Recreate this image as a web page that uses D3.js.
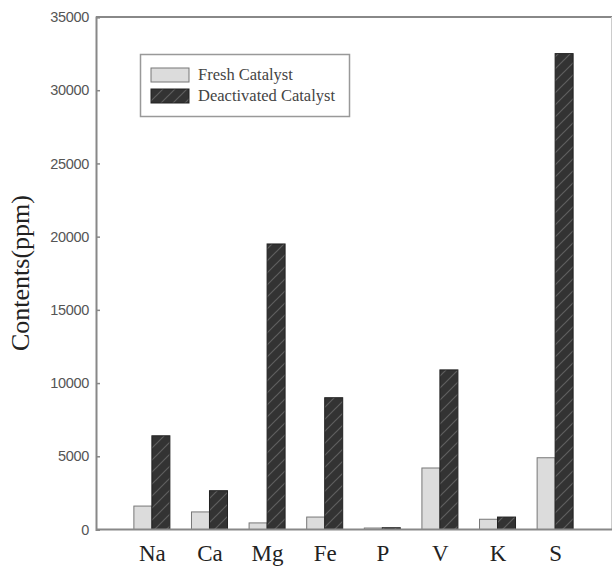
<!DOCTYPE html>
<html>
<head>
<meta charset="utf-8">
<script src="https://cdn.jsdelivr.net/npm/d3@7"></script>
<style>
  body { margin: 0; background: #fff; }
  svg { display: block; }
</style>
</head>
<body>
<div id="chart"></div>
<script>
// data
const elements = ["Na", "Ca", "Mg", "Fe", "P", "V", "K", "S"];
const fresh = [1600, 1200, 450, 850, 100, 4200, 700, 4900];
const deactivated = [6400, 2650, 19500, 9000, 120, 10900, 850, 32500];
const yTicks = [0, 5000, 10000, 15000, 20000, 25000, 30000, 35000];
const seriesNames = ["Fresh Catalyst", "Deactivated Catalyst"];

const W = 612, H = 567;
const margin = { top: 17, right: 1, bottom: 37, left: 96 };

const svg = d3.select("#chart")
    .append("svg")
    .attr("width", W)
    .attr("height", H);

// hatch pattern for the dark bars
const defs = svg.append("defs");
const pat = defs.append("pattern")
    .attr("id", "hatch")
    .attr("patternUnits", "userSpaceOnUse")
    .attr("width", 12)
    .attr("height", 12);
pat.append("rect").attr("width", 12).attr("height", 12).attr("fill", "#333");
pat.append("path")
    .attr("d", "M-3,3 L3,-3 M0,12 L12,0 M9,15 L15,9")
    .attr("stroke", "#5e5e5e")
    .attr("stroke-width", 1.2);

const x = d3.scalePoint()
    .domain(elements)
    .range([margin.left, W - margin.right])
    .padding(0.97);

const y = d3.scaleLinear()
    .domain([0, 35000])
    .range([H - margin.bottom - 0.5, margin.top]);

const barW = 18;

// frame (top / right)
svg.append("line")
    .attr("x1", margin.left).attr("x2", W)
    .attr("y1", margin.top).attr("y2", margin.top)
    .attr("stroke", "#888").attr("stroke-width", 2);
svg.append("line")
    .attr("x1", W - 0.5).attr("x2", W - 0.5)
    .attr("y1", margin.top).attr("y2", y(0))
    .attr("stroke", "#ccc").attr("stroke-width", 1);

// bars
const g = svg.append("g");
g.selectAll(".fresh")
    .data(elements)
    .join("rect")
    .attr("class", "fresh")
    .attr("x", d => x(d) - barW)
    .attr("y", (d, i) => y(fresh[i]))
    .attr("width", barW)
    .attr("height", (d, i) => y(0) - y(fresh[i]))
    .attr("fill", "#dcdcdc")
    .attr("stroke", "#777")
    .attr("stroke-width", 1);

g.selectAll(".deact")
    .data(elements)
    .join("rect")
    .attr("class", "deact")
    .attr("x", d => x(d))
    .attr("y", (d, i) => y(deactivated[i]))
    .attr("width", barW)
    .attr("height", (d, i) => y(0) - y(deactivated[i]))
    .attr("fill", "url(#hatch)")
    .attr("stroke", "#222")
    .attr("stroke-width", 1);

// y axis
const yAxis = svg.append("g")
    .attr("transform", `translate(${margin.left},0)`)
    .call(d3.axisLeft(y).tickValues(yTicks).tickSize(-4).tickPadding(7).tickFormat(d3.format("d")));
yAxis.select(".domain").attr("stroke", "#888").attr("stroke-width", 2);
yAxis.selectAll(".tick line").attr("stroke", "#888").attr("stroke-width", 1.5);
yAxis.selectAll(".tick text")
    .attr("fill", "#555")
    .style("font-family", "Liberation Sans, Arial, sans-serif")
    .style("font-size", "14.5px")
    .style("letter-spacing", "-0.3px");

// x axis
const xAxis = svg.append("g")
    .attr("transform", `translate(0,${y(0)})`)
    .call(d3.axisBottom(x).tickSize(0).tickPadding(15));
xAxis.select(".domain").attr("stroke", "#888").attr("stroke-width", 2)
    .attr("d", `M${margin.left},0H${W}`);
xAxis.selectAll(".tick text")
    .attr("fill", "#222")
    .attr("dy", "0.71em")
    .style("font-family", "Liberation Serif, Times New Roman, serif")
    .style("font-size", "23px");

// y title
svg.append("text")
    .attr("transform", "translate(29,273) rotate(-90)")
    .attr("text-anchor", "middle")
    .attr("fill", "#222")
    .style("font-family", "Liberation Serif, Times New Roman, serif")
    .style("font-size", "26px")
    .text("Contents(ppm)");

// legend
const legend = svg.append("g");
legend.append("rect")
    .attr("x", 140.5).attr("y", 54.5)
    .attr("width", 209).attr("height", 62)
    .attr("fill", "#fff")
    .attr("stroke", "#999").attr("stroke-width", 1.5);
const fills = ["#dcdcdc", "url(#hatch)"];
const strokes = ["#777", "#222"];
seriesNames.forEach((name, i) => {
    legend.append("rect")
        .attr("x", 151).attr("y", 68 + i * 21)
        .attr("width", 38).attr("height", 14)
        .attr("fill", fills[i]).attr("stroke", strokes[i]);
    legend.append("text")
        .attr("x", 198).attr("y", 80 + i * 21)
        .attr("fill", "#444")
        .style("font-family", "Liberation Serif, Times New Roman, serif")
        .style("font-size", "16.5px")
        .text(name);
});
</script>
</body>
</html>
